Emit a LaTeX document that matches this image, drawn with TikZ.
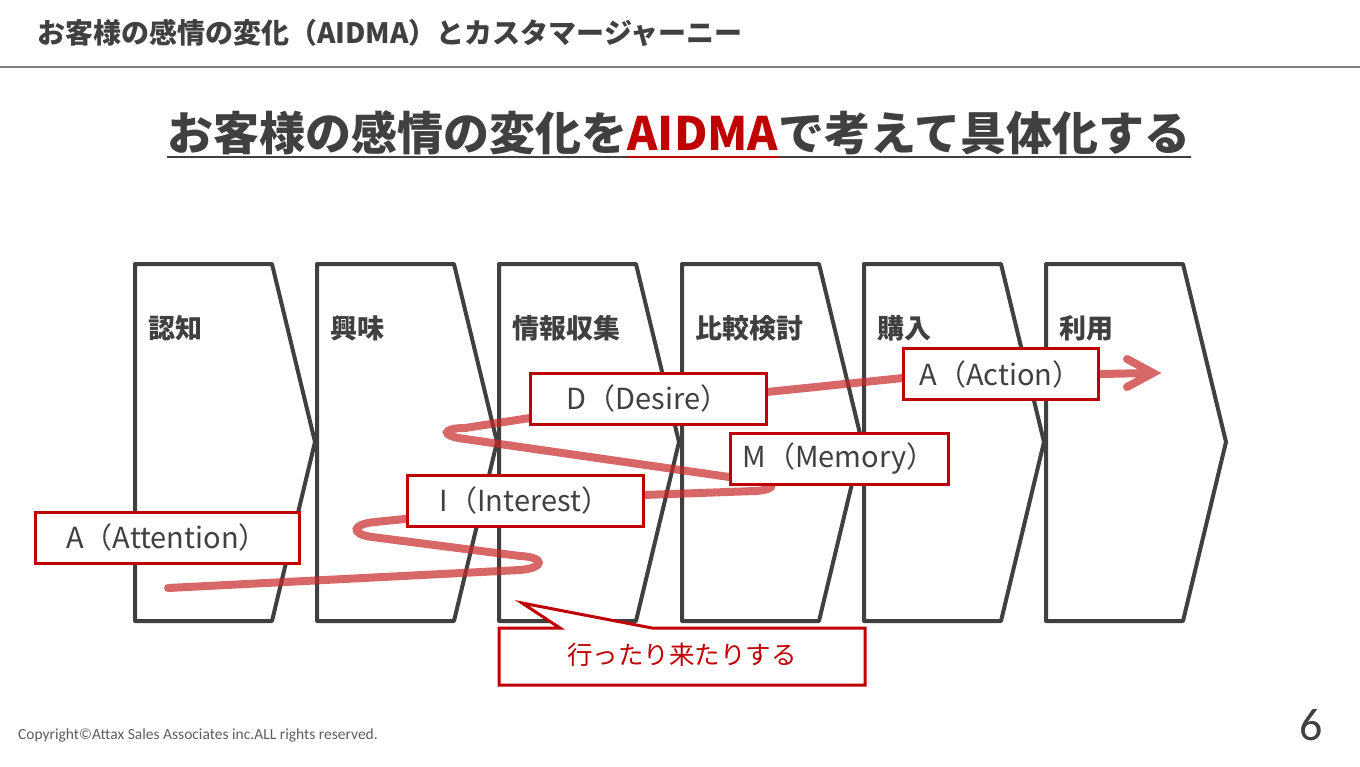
\documentclass[tikz,border=0pt]{standalone}
\usepackage{fontspec}
\setmainfont{Noto Sans CJK JP}
\newfontfamily\footfont{Carlito}
\usetikzlibrary{positioning}
\definecolor{ink}{HTML}{404040}
\definecolor{aidmared}{HTML}{C00000}
\definecolor{pathred}{RGB}{200,40,40}
\tikzset{
        % Stage chevrons
        stage/.style={draw=ink, line width=4pt, line join=round},
        % Stage names
        stage_label/.style={anchor=west, inner sep=0pt, text=ink, font=\fontsize{27}{27}\selectfont\bfseries},
        % AIDMA boxes
        aidma_box/.style={draw=aidmared, line width=3pt, fill=white, text=ink, inner sep=0pt, minimum height=51pt, font=\fontsize{29}{29}\selectfont},
        % Customer path
        journey/.style={draw=pathred, opacity=0.7, line width=8pt, line cap=round, line join=miter},
        % Title text
        title_text/.style={inner sep=0pt, text=ink, font=\fontsize{46}{46}\selectfont\bfseries}
}
\begin{document}
\begin{tikzpicture}[x=1pt, y=-1pt]
    \useasboundingbox (0,0) rectangle (1360,766);

    % header
    \node[anchor=base west, inner sep=0pt, text=ink, font=\fontsize{28}{28}\selectfont\bfseries] (header) at (37,43) {お客様の感情の変化（AIDMA）とカスタマージャーニー};
    \draw[gray, line width=2pt] (0,67) -- (1360,67);

    % title
    \node[title_text, anchor=base west] (t1) at (167,150) {お客様の感情の変化を};
    \node[title_text, text=aidmared, base right=0pt of t1] (t2) {AIDMA};
    \node[title_text, base right=0pt of t2] (t3) {で考えて具体化する};
    \draw[ink, line width=2.5pt] ([yshift=-7pt]t1.base west) -- ([yshift=-7pt]t1.base east);
    \draw[aidmared, line width=2.5pt] ([yshift=-7pt]t2.base west) -- ([yshift=-7pt]t2.base east);
    \draw[ink, line width=2.5pt] ([yshift=-7pt]t3.base west) -- ([yshift=-7pt]t3.base east);

    % stages
    \foreach \x/\lab [count=\i] in {135/認知,317/興味,499/情報収集,682/比較検討,864/購入,1046/利用}{
        \draw[stage] (\x,264) -- ++(137,0) -- ++(43,178) -- ++(-43,179) -- ++(-137,0) -- cycle;
        \node[stage_label] (stage\i) at (\x+13.5,328) {\lab};
    }

    % path of the customer
    \draw[journey] (168,588) -- (520,570) .. controls (545,568) and (545,557) .. (520,556)
        -- (372,537) .. controls (350,534) and (352,524) .. (375,522)
        -- (643,495) -- (755,491) .. controls (778,490) and (778,480) .. (750,480)
        -- (465,439) .. controls (440,436) and (442,428) .. (465,428)
        -- (530,418) -- (767,392) -- (903,378) -- (1150,373)
        (1127,359) -- (1153,373) -- (1127,387);

    % AIDMA
    \node[aidma_box, minimum width=264pt] (attention) at (167,537.5) {A（Attention）};
    \node[aidma_box, minimum width=236pt] (interest) at (525,500.5) {I（Interest）};
    \node[aidma_box, minimum width=236pt] (desire) at (648,398.5) {D（Desire）};
    \node[aidma_box, minimum width=218pt] (memory) at (839,458.5) {M（Memory）};
    \node[aidma_box, minimum width=195pt] (action) at (1000.5,374) {A（Action）};

    % callout
    \draw[draw=aidmared, fill=white, line width=3pt] (499,628) -- (560,628) -- (522,603) -- (652,628)
        -- (865,628) -- (865,685) -- (499,685) -- cycle;
    \node[text=aidmared, font=\fontsize{25.5}{25.5}\selectfont] (note) at (682,655) {行ったり来たりする};

    % footer
    \node[anchor=base west, inner sep=0pt, text=ink!85, font=\footfont\fontsize{15.5}{15.5}\selectfont] (copyright) at (18,739) {Copyright©Attax Sales Associates inc.ALL rights reserved.};
    \node[anchor=base, inner sep=0pt, text=ink, font=\footfont\fontsize{46}{46}\selectfont] (pageno) at (1311,740) {6};
\end{tikzpicture}
\end{document}
